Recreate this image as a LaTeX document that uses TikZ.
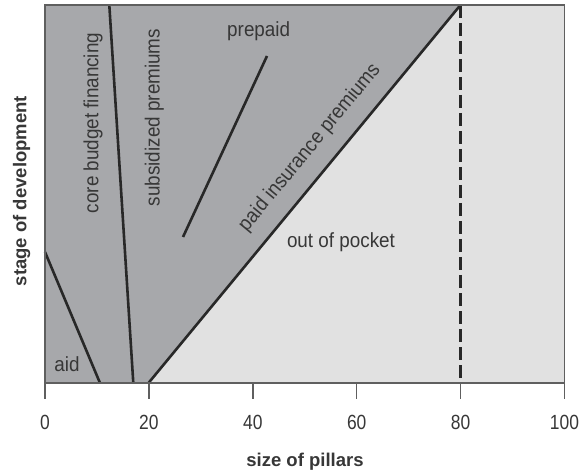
\documentclass[tikz,border=0pt]{standalone}
\usepackage{fontspec}
\setmainfont{Liberation Sans}[FakeStretch=0.92]
\newfontfamily\ticksfont{Liberation Sans}[FakeStretch=0.85]
\newfontfamily\titlefont{Liberation Sans}
\definecolor{darkzone}{RGB}{167,168,171}
\definecolor{lightzone}{RGB}{225,225,225}
\definecolor{inkline}{RGB}{40,40,40}
\definecolor{framegray}{RGB}{95,95,95}
\definecolor{txtgray}{RGB}{55,55,55}
\begin{document}
\begin{tikzpicture}[x=1pt,y=-1pt,
  lbl/.style={font=\fontsize{20.5}{24}\selectfont, text=txtgray, inner sep=0pt},
  ticklbl/.style={font=\ticksfont\fontsize{20.5}{24}\selectfont, text=txtgray, inner sep=0pt},
  axtitle/.style={font=\titlefont\bfseries\fontsize{18.5}{22}\selectfont, text=txtgray, inner sep=0pt},
  divider/.style={draw=inkline, line width=2.6pt},
  limitline/.style={draw=inkline, line width=2.8pt, dash pattern=on 13pt off 5pt},
  frameline/.style={draw=framegray, line width=1.6pt},
  tickline/.style={draw=framegray, line width=1.4pt}]
\useasboundingbox (0,0) rectangle (579,476);

% plot corners and boundary points
\coordinate (TL) at (45,5);
\coordinate (TR) at (564.5,5);
\coordinate (BR) at (564.5,383);
\coordinate (BL) at (45,383);
\coordinate (P20) at (148.5,383);
\coordinate (P80t) at (460.5,5);
\coordinate (P80b) at (460.5,383);
\coordinate (aidT) at (45,252);
\coordinate (aidB) at (100,383);
\coordinate (coreT) at (109.3,5);
\coordinate (coreB) at (133.3,383);
\coordinate (preA) at (183,237);
\coordinate (preB) at (267,56);

% zones
\fill[lightzone] (TL) rectangle (BR);
\fill[darkzone] (TL) -- (P80t) -- (P20) -- (BL) -- cycle;

% dividing lines
\draw[divider] (aidT) -- (aidB);
\draw[divider] (coreT) -- (coreB);
\draw[divider] (P20) -- (P80t);
\draw[divider] (preA) -- (preB);
\draw[limitline] (P80t) -- (P80b);

% frame
\draw[frameline] (TL) rectangle (BR);

% ticks and tick labels
\foreach \v in {0,20,40,60,80,100}{
  \coordinate (t\v) at ({45+5.195*\v},383);
  \draw[tickline] (t\v) -- ++(0,16);
  \node[ticklbl] (tick\v) at ({45+5.195*\v},422.5) {\v};
}

% zone labels
\node[lbl, anchor=base] (prepaid) at (258.7,36.7) {prepaid};
\node[lbl, anchor=base] (oop) at (341,247.3) {out of pocket};
\node[lbl, anchor=base] (aid) at (67,371.7) {aid};
\node[lbl, anchor=base, rotate=90] (core) at (98.3,123) {core budget financing};
\node[lbl, anchor=base, rotate=90] (subs) at (159.5,117.5) {subsidized premiums};
\node[lbl, anchor=base, rotate=50.5] (paid) at (314,151) {paid insurance premiums};

% axis titles
\node[axtitle, anchor=base] (xtitle) at (305,466.7) {size of pillars};
\node[axtitle, anchor=base, rotate=90] (ytitle) at (26.5,191) {stage of development};
\end{tikzpicture}
\end{document}
